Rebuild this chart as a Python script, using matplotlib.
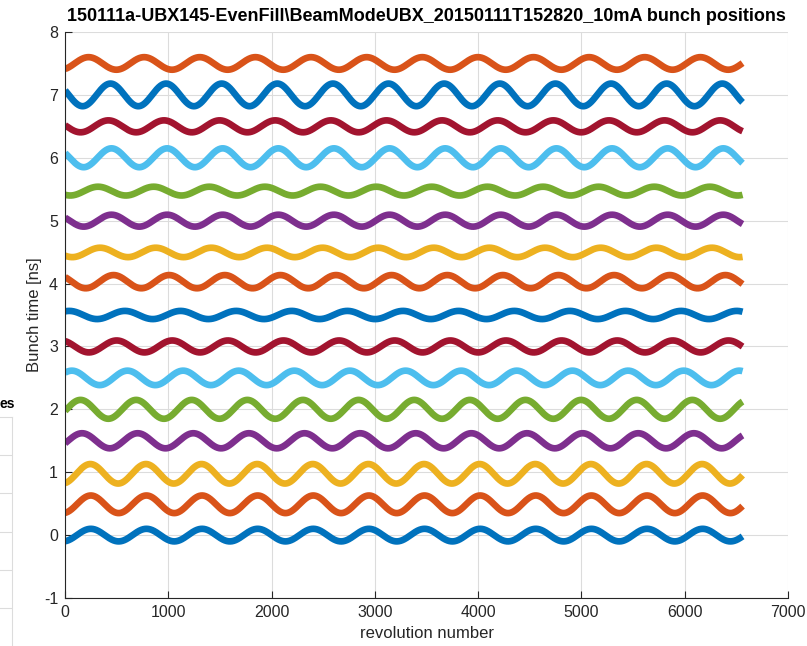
import numpy as np
import matplotlib.pyplot as plt

plt.rcParams['font.family'] = ['Liberation Sans', 'DejaVu Sans']
plt.rcParams['axes.unicode_minus'] = False

# bunch traces, bottom to top: mean position [ns], oscillation amplitude [ns],
# revolution of first maximum
offsets = [0.0, 0.49, 0.975, 1.5, 2.0, 2.5, 3.0, 3.5,
           4.03, 4.495, 5.0, 5.47, 6.0, 6.5, 7.0, 7.5]
amps = [0.10, 0.14, 0.155, 0.12, 0.15, 0.115, 0.095, 0.065,
        0.105, 0.075, 0.095, 0.07, 0.15, 0.095, 0.18, 0.10]
first_peak = [250, 250, 245, 165, 150, 605, 500, 580,
              470, 340, 450, 320, 450, 420, 440, 228]
period = 538.5      # synchrotron period in revolutions
n_rev = 6560

# matlab default colour order
colors = ['#0072BD', '#D95319', '#EDB120', '#7E2F8E', '#77AC30', '#4DBEEE', '#A2142F']

W, H = 807, 646
fig = plt.figure(figsize=(W / 100, H / 100), dpi=100)
ax = fig.add_axes([65 / W, 1 - 598 / H, (788 - 65) / W, (598 - 32) / H])

rev = np.arange(1, n_rev + 1)
for i in range(len(offsets)):
    y = offsets[i] + amps[i] * np.cos(2 * np.pi * (rev - first_peak[i]) / period)
    ax.plot(rev, y, color=colors[i % 7], lw=4.8, solid_capstyle='butt')

ax.set_xlim(0, 7000)
ax.set_ylim(-1, 8)
ax.set_xticks(range(0, 7001, 1000))
ax.set_yticks(range(-1, 9))
ax.grid(True, color='#dcdcdc', lw=0.8)
ax.set_axisbelow(True)
for s in ['top', 'right']:
    ax.spines[s].set_visible(False)
for s in ['left', 'bottom']:
    ax.spines[s].set_color('#262626')
    ax.spines[s].set_linewidth(0.8)
ax.tick_params(direction='in', length=5, colors='#262626', labelsize=11.5, pad=5)
ax.set_xlabel('revolution number', fontsize=12, color='#262626', labelpad=4)
ax.set_ylabel('Bunch time [ns]', fontsize=12, color='#262626', labelpad=1)
ax.set_title('150111a-UBX145-EvenFill\\BeamModeUBX_20150111T152820_10mA bunch positions',
             fontsize=13, fontweight='bold', pad=8)

# piece of a neighbouring panel cut off at the left edge
ax2 = fig.add_axes([-0.1, 1 - 646.7 / H, 0.1 + 11.7 / W, 230 / H])
ax2.set_xlim(0, 1)
ax2.set_ylim(0, 6)
for s in ['left', 'bottom']:
    ax2.spines[s].set_visible(False)
for s in ['top', 'right']:
    ax2.spines[s].set_color('#dcdcdc')
ax2.set_xticks([])
ax2.set_yticks([1, 2, 3, 4, 5])
ax2.tick_params(length=0, labelleft=False)
ax2.grid(True, axis='y', color='#dcdcdc', lw=0.8)
fig.text(15 / W, 1 - 404 / H, 'es', fontsize=10, fontweight='bold', ha='right', va='center')

fig.savefig('out.png', dpi=100)
